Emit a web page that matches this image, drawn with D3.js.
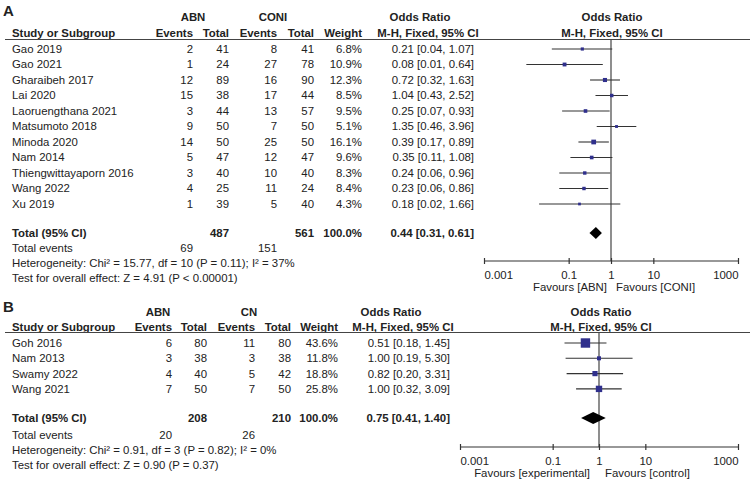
<!DOCTYPE html>
<html lang="en">
<head>
  <meta charset="UTF-8">
  <title>Forest plots</title>
  <style>
    body { margin: 0; background: #fff; }
    text { font-family: "Liberation Sans", Arial, sans-serif; font-size: 11.4px; fill: #222; }
    .bold { font-weight: bold; }
  </style>
</head>
<body>
  <script src="https://cdnjs.cloudflare.com/ajax/libs/d3/7.8.5/d3.min.js"></script>
  <script>
    // ---- panel A data ----
    const studiesA = ["Gao 2019", "Gao 2021", "Gharaibeh 2017", "Lai 2020", "Laoruengthana 2021", "Matsumoto 2018",
      "Minoda 2020", "Nam 2014", "Thiengwittayaporn 2016", "Wang 2022", "Xu 2019"];
    const abnEventsA = [2, 1, 12, 15, 3, 9, 14, 5, 3, 4, 1];
    const abnTotalA = [41, 24, 89, 38, 44, 50, 50, 47, 40, 25, 39];
    const ctlEventsA = [8, 27, 16, 17, 13, 7, 25, 12, 10, 11, 5];
    const ctlTotalA = [41, 78, 90, 44, 57, 50, 50, 47, 40, 24, 40];
    const weightA = [6.8, 10.9, 12.3, 8.5, 9.5, 5.1, 16.1, 9.6, 8.3, 8.4, 4.3];
    const orA = [0.21, 0.08, 0.72, 1.04, 0.25, 1.35, 0.39, 0.35, 0.24, 0.23, 0.18];
    const lowA = [0.04, 0.01, 0.32, 0.43, 0.07, 0.46, 0.17, 0.11, 0.06, 0.06, 0.02];
    const highA = [1.07, 0.64, 1.63, 2.52, 0.93, 3.96, 0.89, 1.08, 0.96, 0.86, 1.66];
    const totalA = [487, 561, 69, 151];           // abn total, ctl total, abn events, ctl events
    const pooledA = [0.44, 0.31, 0.61];
    const notesA = ["Heterogeneity: Chi\u00b2 = 15.77, df = 10 (P = 0.11); I\u00b2 = 37%",
      "Test for overall effect: Z = 4.91 (P < 0.00001)"];

    // ---- panel B data ----
    const studiesB = ["Goh 2016", "Nam 2013", "Swamy 2022", "Wang 2021"];
    const abnEventsB = [6, 3, 4, 7];
    const abnTotalB = [80, 38, 40, 50];
    const ctlEventsB = [11, 3, 5, 7];
    const ctlTotalB = [80, 38, 42, 50];
    const weightB = [43.6, 11.8, 18.8, 25.8];
    const orB = [0.51, 1.00, 0.82, 1.00];
    const lowB = [0.18, 0.19, 0.20, 0.32];
    const highB = [1.45, 5.30, 3.31, 3.09];
    const totalB = [208, 210, 20, 26];
    const pooledB = [0.75, 0.41, 1.40];
    const notesB = ["Heterogeneity: Chi\u00b2 = 0.91, df = 3 (P = 0.82); I\u00b2 = 0%",
      "Test for overall effect: Z = 0.90 (P = 0.37)"];

    const axisTicks = [0.001, 0.1, 1, 10, 1000];

    const svg = d3.select("body").append("svg")
      .attr("width", 750).attr("height", 480);

    const f2 = d3.format(".2f");
    const f1 = d3.format(".1f");
    const boxSize = d3.scaleLinear().domain([0, 50]).range([2, 10.5]);

    function drawPanel(p) {
      const g = svg.append("g");
      const put = (x, y, s, anchor, cls) => g.append("text")
        .attr("x", x).attr("y", y).attr("dy", "0.35em")
        .attr("text-anchor", anchor || "start")
        .attr("class", cls || null).text(s);

      // panel letter
      g.append("text").attr("x", 3).attr("y", p.letterY).attr("dy", "0.35em")
        .attr("class", "bold").style("font-size", "15px").text(p.letter);

      // header rows
      put(p.col[0], p.h1, "ABN", "middle", "bold");
      put(p.col[2], p.h1, p.ctlName, "middle", "bold");
      put(p.orHead[0], p.h1, "Odds Ratio", "middle", "bold");
      put(p.orHead[1], p.h2, "M-H, Fixed, 95% CI", "middle", "bold");
      put(p.plotHead, p.h1, "Odds Ratio", "middle", "bold");
      put(p.plotHead, p.h2, "M-H, Fixed, 95% CI", "middle", "bold");
      put(12, p.h2, "Study or Subgroup", "start", "bold");
      ["Events", "Total", "Events", "Total", "Weight"].forEach((h, i) => put(p.cols[i], p.h2, h, "end", "bold"));

      g.append("line").attr("x1", 5).attr("x2", 750).attr("y1", p.line).attr("y2", p.line)
        .attr("stroke", "#444").attr("stroke-width", 1.2);

      const y = d3.scalePoint().domain(p.studies).range([p.row0, p.row0 + p.step * (p.studies.length - 1)]);
      const x = d3.scaleLog().domain([0.001, 1000]).range(p.xr);

      p.studies.forEach((s, i) => {
        const yy = y(s);
        put(12, yy, s);
        put(p.cols[0], yy, p.ae[i], "end");
        put(p.cols[1], yy, p.at[i], "end");
        put(p.cols[2], yy, p.ce[i], "end");
        put(p.cols[3], yy, p.ct[i], "end");
        put(p.cols[4], yy, f1(p.w[i]) + "%", "end");
        put(p.cols[5], yy, `${f2(p.or[i])} [${f2(p.lo[i])}, ${f2(p.hi[i])}]`, "end");
      });

      // totals and notes
      put(12, p.totY, "Total (95% CI)", "start", "bold");
      put(p.cols[1], p.totY, p.tot[0], "end", "bold");
      put(p.cols[3], p.totY, p.tot[1], "end", "bold");
      put(p.cols[4], p.totY, "100.0%", "end", "bold");
      put(p.cols[5], p.totY, `${f2(p.pool[0])} [${f2(p.pool[1])}, ${f2(p.pool[2])}]`, "end", "bold");
      put(12, p.evY, "Total events");
      put(p.cols[0], p.evY, p.tot[2], "end");
      put(p.cols[2], p.evY, p.tot[3], "end");
      p.notes.forEach((n, i) => put(12, p.evY + p.noteStep * (i + 1), n));

      // no-effect line
      g.append("line").attr("x1", x(1)).attr("x2", x(1)).attr("y1", p.line).attr("y2", p.axisY)
        .attr("stroke", "#444").attr("stroke-width", 1.2);

      // CI lines and boxes
      const pts = g.selectAll(".study").data(p.studies).join("g").attr("class", "study");
      pts.append("line")
        .attr("x1", (d, i) => x(p.lo[i])).attr("x2", (d, i) => x(p.hi[i]))
        .attr("y1", d => y(d)).attr("y2", d => y(d))
        .attr("stroke", "#333").attr("stroke-width", 1.1);
      pts.append("rect")
        .attr("x", (d, i) => x(p.or[i]) - boxSize(p.w[i]) / 2)
        .attr("y", (d, i) => y(d) - boxSize(p.w[i]) / 2)
        .attr("width", (d, i) => boxSize(p.w[i]))
        .attr("height", (d, i) => boxSize(p.w[i]))
        .attr("fill", "#2f2f8c");

      // pooled diamond
      const dy = 6;
      g.append("path")
        .attr("d", `M${x(p.pool[1])},${p.totY} L${x(p.pool[0])},${p.totY - dy} L${x(p.pool[2])},${p.totY} L${x(p.pool[0])},${p.totY + dy} Z`)
        .attr("fill", "#000");

      // axis
      const ax = g.append("g").attr("transform", `translate(0,${p.axisY})`)
        .call(d3.axisBottom(x).tickValues(axisTicks).tickFormat(d => String(d)).tickSize(3).tickPadding(7));
      ax.select(".domain").attr("stroke", "#333").attr("stroke-width", 1.2).attr("d", `M${p.xr[0]},0H${p.xr[1]}`);
      ax.selectAll(".tick line").attr("y1", -3).attr("y2", 3).attr("stroke", "#333").attr("stroke-width", 1.2);
      ax.selectAll(".tick text").style("font-size", "11.4px").attr("fill", "#222")
        .style("font-family", '"Liberation Sans", Arial, sans-serif')
        .attr("text-anchor", (d, i) => i === 0 ? "start" : i === axisTicks.length - 1 ? "end" : "middle");

      put(p.fav[0], p.favY, p.favText[0], "end");
      put(p.fav[1], p.favY, p.favText[1], "start");
    }

    drawPanel({
      letter: "A", letterY: 11, ctlName: "CONI",
      h1: 17, h2: 33, line: 39.5,
      col: [193, 0, 273], cols: [193, 229, 277, 314, 362, 474],
      orHead: [420, 428], plotHead: 612,
      studies: studiesA, ae: abnEventsA, at: abnTotalA, ce: ctlEventsA, ct: ctlTotalA,
      w: weightA, or: orA, lo: lowA, hi: highA, tot: totalA, pool: pooledA, notes: notesA,
      row0: 49, step: 15.5, totY: 233, evY: 248, noteStep: 15,
      xr: [484, 738], axisY: 261, favY: 287, fav: [607, 616],
      favText: ["Favours [ABN]", "Favours [CONI]"]
    });

    drawPanel({
      letter: "B", letterY: 307, ctlName: "CN",
      h1: 312, h2: 327, line: 332.5,
      col: [158, 0, 249], cols: [172, 207, 255, 291, 338, 450],
      orHead: [391, 403], plotHead: 601,
      studies: studiesB, ae: abnEventsB, at: abnTotalB, ce: ctlEventsB, ct: ctlTotalB,
      w: weightB, or: orB, lo: lowB, hi: highB, tot: totalB, pool: pooledB, notes: notesB,
      row0: 343, step: 15.3, totY: 418, evY: 435, noteStep: 15,
      xr: [460, 738], axisY: 447, favY: 473, fav: [590, 605],
      favText: ["Favours [experimental]", "Favours [control]"]
    });
  </script>
</body>
</html>
